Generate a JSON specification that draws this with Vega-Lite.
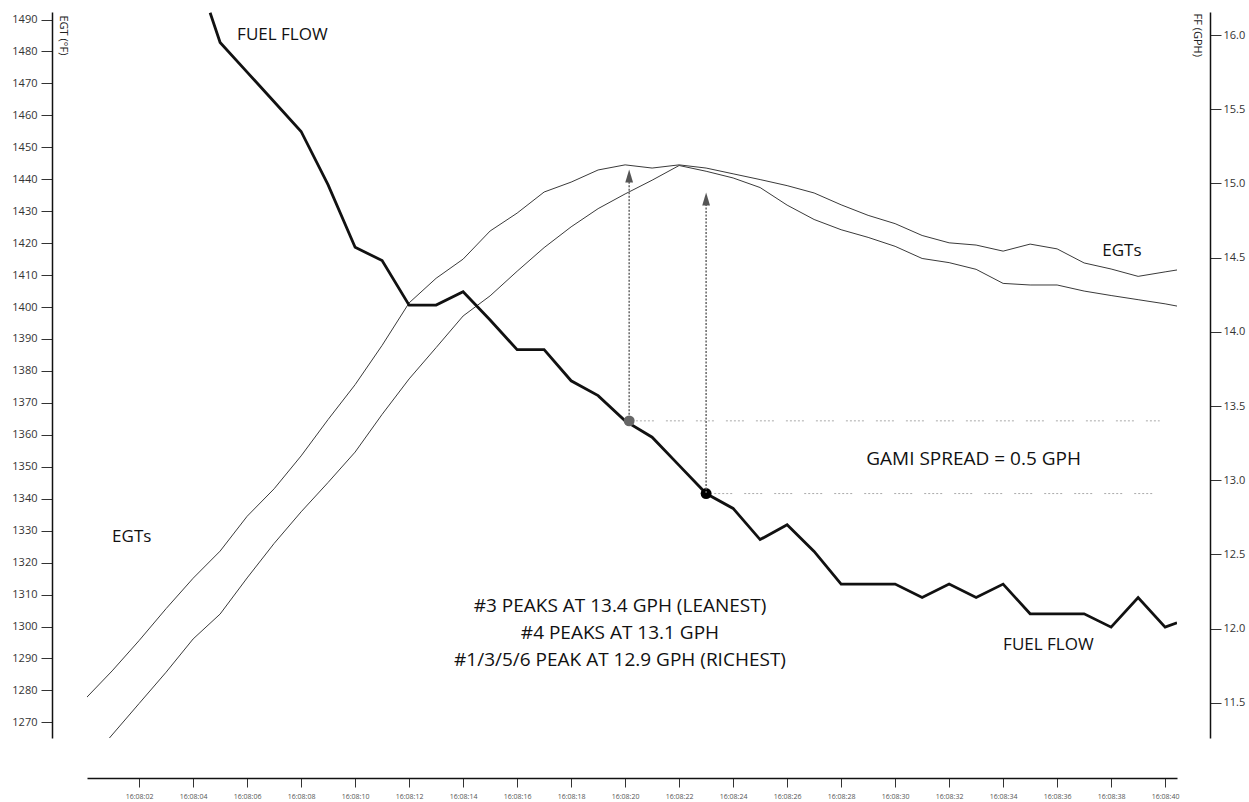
{
  "$schema": "https://vega.github.io/schema/vega-lite/v6.json",
  "width": 1090,
  "height": 726,
  "autosize": {"type": "none"},
  "padding": {"left": 87, "top": 12, "right": 72, "bottom": 64},
  "background": "white",
  "config": {
    "view": {"stroke": null},
    "font": "Open Sans"
  },
  "datasets": {
    "egt": [
      {"series": "A", "t": 0, "egt": 1277.3}, {"series": "A", "t": 1, "egt": 1286.1}, {"series": "A", "t": 2, "egt": 1295.6},
      {"series": "A", "t": 3, "egt": 1305.6}, {"series": "A", "t": 4, "egt": 1315.1}, {"series": "A", "t": 5, "egt": 1323.6},
      {"series": "A", "t": 6, "egt": 1334.5}, {"series": "A", "t": 7, "egt": 1343.1}, {"series": "A", "t": 8, "egt": 1353.4},
      {"series": "A", "t": 9, "egt": 1364.8}, {"series": "A", "t": 10, "egt": 1375.7}, {"series": "A", "t": 11, "egt": 1388.0},
      {"series": "A", "t": 12, "egt": 1401.3}, {"series": "A", "t": 13, "egt": 1409.0}, {"series": "A", "t": 14, "egt": 1415.0},
      {"series": "A", "t": 15, "egt": 1423.8}, {"series": "A", "t": 16, "egt": 1429.4}, {"series": "A", "t": 17, "egt": 1436.0},
      {"series": "A", "t": 18, "egt": 1439.1}, {"series": "A", "t": 19, "egt": 1442.9}, {"series": "A", "t": 20, "egt": 1444.5},
      {"series": "A", "t": 21, "egt": 1443.5}, {"series": "A", "t": 22, "egt": 1444.5}, {"series": "A", "t": 23, "egt": 1443.5},
      {"series": "A", "t": 24, "egt": 1441.7}, {"series": "A", "t": 25, "egt": 1439.9}, {"series": "A", "t": 26, "egt": 1438.0},
      {"series": "A", "t": 27, "egt": 1435.7}, {"series": "A", "t": 28, "egt": 1432.0}, {"series": "A", "t": 29, "egt": 1428.7},
      {"series": "A", "t": 30, "egt": 1426.1}, {"series": "A", "t": 31, "egt": 1422.4}, {"series": "A", "t": 32, "egt": 1420.1},
      {"series": "A", "t": 33, "egt": 1419.4}, {"series": "A", "t": 34, "egt": 1417.5}, {"series": "A", "t": 35, "egt": 1419.7},
      {"series": "A", "t": 36, "egt": 1418.2}, {"series": "A", "t": 37, "egt": 1413.8}, {"series": "A", "t": 38, "egt": 1411.9},
      {"series": "A", "t": 39, "egt": 1409.6}, {"series": "A", "t": 40, "egt": 1411.0}, {"series": "A", "t": 40.44, "egt": 1411.6},
      {"series": "B", "t": 0.9, "egt": 1265.1}, {"series": "B", "t": 2, "egt": 1275.9}, {"series": "B", "t": 3, "egt": 1285.7},
      {"series": "B", "t": 4, "egt": 1296.1}, {"series": "B", "t": 5, "egt": 1303.9}, {"series": "B", "t": 6, "egt": 1315.2},
      {"series": "B", "t": 7, "egt": 1326.0}, {"series": "B", "t": 8, "egt": 1335.9}, {"series": "B", "t": 9, "egt": 1345.1},
      {"series": "B", "t": 10, "egt": 1354.6}, {"series": "B", "t": 11, "egt": 1366.4}, {"series": "B", "t": 12, "egt": 1377.5},
      {"series": "B", "t": 13, "egt": 1387.3}, {"series": "B", "t": 14, "egt": 1397.2}, {"series": "B", "t": 15, "egt": 1403.5},
      {"series": "B", "t": 16, "egt": 1411.2}, {"series": "B", "t": 17, "egt": 1418.6}, {"series": "B", "t": 18, "egt": 1425.1},
      {"series": "B", "t": 19, "egt": 1430.8}, {"series": "B", "t": 20, "egt": 1435.4}, {"series": "B", "t": 21, "egt": 1439.7},
      {"series": "B", "t": 22, "egt": 1444.3}, {"series": "B", "t": 23, "egt": 1442.5}, {"series": "B", "t": 24, "egt": 1440.4},
      {"series": "B", "t": 25, "egt": 1437.4}, {"series": "B", "t": 26, "egt": 1431.9}, {"series": "B", "t": 27, "egt": 1427.4},
      {"series": "B", "t": 28, "egt": 1424.2}, {"series": "B", "t": 29, "egt": 1421.8}, {"series": "B", "t": 30, "egt": 1419.0},
      {"series": "B", "t": 31, "egt": 1415.2}, {"series": "B", "t": 32, "egt": 1413.9}, {"series": "B", "t": 33, "egt": 1411.8},
      {"series": "B", "t": 34, "egt": 1407.4}, {"series": "B", "t": 35, "egt": 1406.9}, {"series": "B", "t": 36, "egt": 1406.9},
      {"series": "B", "t": 37, "egt": 1405.0}, {"series": "B", "t": 38, "egt": 1403.6}, {"series": "B", "t": 39, "egt": 1402.3},
      {"series": "B", "t": 40, "egt": 1401.0}, {"series": "B", "t": 40.44, "egt": 1400.3}
    ],
    "ff": [
      {"t": 4.63, "ff": 16.15}, {"t": 5, "ff": 15.95}, {"t": 6, "ff": 15.75}, {"t": 7, "ff": 15.55}, {"t": 8, "ff": 15.35},
      {"t": 9, "ff": 14.99}, {"t": 10, "ff": 14.57}, {"t": 11, "ff": 14.48}, {"t": 12, "ff": 14.18}, {"t": 13, "ff": 14.18},
      {"t": 14, "ff": 14.27}, {"t": 15, "ff": 14.08}, {"t": 16, "ff": 13.88}, {"t": 17, "ff": 13.88}, {"t": 18, "ff": 13.67},
      {"t": 19, "ff": 13.57}, {"t": 20, "ff": 13.40}, {"t": 21, "ff": 13.29}, {"t": 22, "ff": 13.10}, {"t": 23, "ff": 12.91},
      {"t": 24, "ff": 12.81}, {"t": 25, "ff": 12.60}, {"t": 26, "ff": 12.70}, {"t": 27, "ff": 12.52}, {"t": 28, "ff": 12.30},
      {"t": 29, "ff": 12.30}, {"t": 30, "ff": 12.30}, {"t": 31, "ff": 12.21}, {"t": 32, "ff": 12.30}, {"t": 33, "ff": 12.21},
      {"t": 34, "ff": 12.30}, {"t": 35, "ff": 12.10}, {"t": 36, "ff": 12.10}, {"t": 37, "ff": 12.10}, {"t": 38, "ff": 12.01},
      {"t": 39, "ff": 12.21}, {"t": 40, "ff": 12.01}, {"t": 40.44, "ff": 12.04}
    ],
    "peaks": [
      {"cyl": "#3", "t": 20.15, "ff": 13.40},
      {"cyl": "#1/3/5/6", "t": 23.0, "ff": 12.91}
    ],
    "spread": [
      {"t": 20.4, "t2": 39.8, "ff": 13.40},
      {"t": 23.3, "t2": 39.7, "ff": 12.91}
    ],
    "arrows": [
      {"t": 20.15, "from": 1364.1, "to": 1441.0},
      {"t": 23.0, "from": 1341.8, "to": 1433.8}
    ],
    "labels17": [
      {"label": "FUEL FLOW", "t": 5.63, "egt": 1485.1},
      {"label": "EGTs", "t": 1.0, "egt": 1328.0},
      {"label": "EGTs", "t": 37.67, "egt": 1417.5},
      {"label": "FUEL FLOW", "t": 34.0, "egt": 1294.2}
    ],
    "gami": [
      {"label": "GAMI SPREAD = 0.5 GPH", "t": 28.93, "egt": 1352.4}
    ],
    "peaktext": [
      {"label": "#3 PEAKS AT 13.4 GPH (LEANEST)", "t": 19.81, "egt": 1306.4},
      {"label": "#4 PEAKS AT 13.1 GPH", "t": 19.81, "egt": 1297.9},
      {"label": "#1/3/5/6 PEAK AT 12.9 GPH (RICHEST)", "t": 19.81, "egt": 1289.5}
    ]
  },
  "encoding": {
    "x": {"field": "t", "type": "quantitative", "scale": {"domain": [0.07, 40.44], "nice": false, "zero": false},
      "axis": {"orient": "bottom", "offset": 40, "values": [2,4,6,8,10,12,14,16,18,20,22,24,26,28,30,32,34,36,38,40],
        "labelExpr": "'16:08:' + (datum.value < 10 ? '0' : '') + datum.value", "title": null, "grid": false,
        "labelFontSize": 7, "labelColor": "#555", "tickSize": 9, "tickColor": "#333", "labelPadding": 5,
        "labelFlush": false, "labelOverlap": false,
        "domainColor": "#111", "domainWidth": 1.5}}
  },
  "layer": [
    {
      "data": {"name": "egt"},
      "mark": {"type": "line", "clip": true, "strokeWidth": 1, "color": "#3a3a3a"},
      "encoding": {
        "y": {"field": "egt", "type": "quantitative", "scale": {"domain": [1265.1, 1492.35], "nice": false, "zero": false},
          "axis": {"orient": "left", "offset": 35, "values": [1270,1280,1290,1300,1310,1320,1330,1340,1350,1360,1370,1380,1390,1400,1410,1420,1430,1440,1450,1460,1470,1480,1490],
            "format": "d",
            "title": "EGT (°F)", "titleAngle": 90, "titleX": 10, "titleY": 3, "titleAlign": "left", "titleBaseline": "middle",
            "titleFontSize": 11, "titleFontWeight": "normal", "titleColor": "#222", "grid": false,
            "labelFontSize": 11, "labelColor": "#333", "labelPadding": 4, "tickSize": 11, "tickColor": "#333",
            "labelFlush": false, "labelOverlap": false,
            "domainColor": "#111", "domainWidth": 1.5}},
        "detail": {"field": "series"}
      }
    },
    {
      "data": {"name": "ff"},
      "mark": {"type": "line", "clip": true, "strokeWidth": 2.8, "color": "#111", "strokeJoin": "miter"},
      "encoding": {
        "y": {"field": "ff", "type": "quantitative", "scale": {"domain": [11.263, 16.155], "nice": false, "zero": false},
          "axis": {"orient": "right", "offset": 33, "values": [11.5, 12, 12.5, 13, 13.5, 14, 14.5, 15, 15.5, 16], "format": ".1f",
            "title": "FF (GPH)", "titleAngle": 90, "titleX": -14, "titleY": 1, "titleAlign": "left", "titleBaseline": "middle",
            "titleFontSize": 11, "titleFontWeight": "normal", "titleColor": "#222", "grid": false,
            "labelFontSize": 11, "labelColor": "#333", "labelPadding": 2, "tickSize": 11, "tickColor": "#333",
            "labelFlush": false, "labelOverlap": false,
            "domainColor": "#111", "domainWidth": 1.5}}
      }
    },
    {
      "data": {"name": "spread"},
      "mark": {"type": "rule", "strokeWidth": 1, "color": "#aaa", "strokeDash": [2, 2, 2, 2, 2, 2, 2, 2, 2, 12]},
      "encoding": {
        "x2": {"field": "t2"},
        "y": {"field": "ff", "type": "quantitative", "scale": {"domain": [11.263, 16.155], "nice": false, "zero": false}, "axis": null}
      }
    },
    {
      "data": {"name": "peaks"},
      "mark": {"type": "circle", "size": 120, "opacity": 1},
      "encoding": {
        "y": {"field": "ff", "type": "quantitative", "scale": {"domain": [11.263, 16.155], "nice": false, "zero": false}, "axis": null},
        "color": {"field": "cyl", "type": "nominal", "scale": {"domain": ["#3", "#1/3/5/6"], "range": ["#666666", "#000000"]}, "legend": null}
      }
    },
    {
      "data": {"name": "arrows"},
      "mark": {"type": "rule", "strokeWidth": 1.5, "color": "#666", "strokeDash": [2, 1.5]},
      "encoding": {
        "y": {"field": "from", "type": "quantitative", "scale": {"domain": [1265.1, 1492.35], "nice": false, "zero": false}, "axis": null},
        "y2": {"field": "to"}
      }
    },
    {
      "data": {"name": "arrows"},
      "mark": {"type": "point", "filled": true, "shape": "M-0.6,1L0,-1L0.6,1Z", "size": 169, "color": "#555", "opacity": 1},
      "encoding": {
        "y": {"field": "to", "type": "quantitative", "scale": {"domain": [1265.1, 1492.35], "nice": false, "zero": false}, "axis": null}
      }
    },
    {
      "data": {"name": "labels17"},
      "mark": {"type": "text", "align": "left", "baseline": "middle", "fontSize": 17, "font": "Open Sans", "color": "#111"},
      "encoding": {
        "y": {"field": "egt", "type": "quantitative", "scale": {"domain": [1265.1, 1492.35], "nice": false, "zero": false}, "axis": null},
        "text": {"field": "label"}
      }
    },
    {
      "data": {"name": "gami"},
      "mark": {"type": "text", "align": "left", "baseline": "middle", "fontSize": 19, "font": "Open Sans", "color": "#111"},
      "encoding": {
        "y": {"field": "egt", "type": "quantitative", "scale": {"domain": [1265.1, 1492.35], "nice": false, "zero": false}, "axis": null},
        "text": {"field": "label"}
      }
    },
    {
      "data": {"name": "peaktext"},
      "mark": {"type": "text", "align": "center", "baseline": "middle", "fontSize": 19, "font": "Open Sans", "color": "#111"},
      "encoding": {
        "y": {"field": "egt", "type": "quantitative", "scale": {"domain": [1265.1, 1492.35], "nice": false, "zero": false}, "axis": null},
        "text": {"field": "label"}
      }
    }
  ],
  "resolve": {"scale": {"y": "independent"}}
}
